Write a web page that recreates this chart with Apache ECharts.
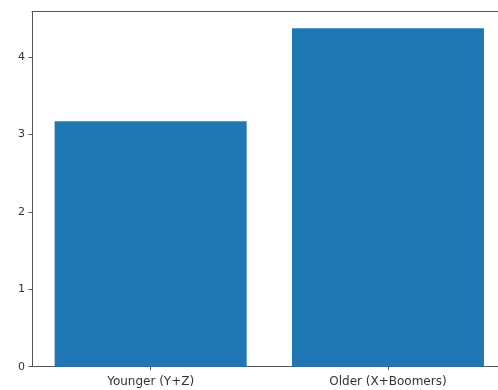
<!DOCTYPE html>
<html>
<head>
<meta charset="utf-8">
<script src="https://cdn.jsdelivr.net/npm/echarts@6/dist/echarts.min.js"></script>
<style>
  html, body { margin: 0; padding: 0; background: #fff; }
  #chart { width: 498px; height: 390px; }
</style>
</head>
<body>
<div id="chart"></div>
<script>
// Generation groups and their mean scores
const categories = ['Younger (Y+Z)', 'Older (X+Boomers)'];
const values = [3.17, 4.37];
const yTicks = [0, 1, 2, 3, 4];

const chart = echarts.init(document.getElementById('chart'), null, { renderer: 'canvas' });

const axisColor = '#555';
const textColor = '#333';
const font = 'DejaVu Sans, sans-serif';

chart.setOption({
  animation: false,
  grid: {
    left: 32,
    top: 11.7,
    width: 474.6,
    height: 355,
    outerBoundsMode: 'none',
    containLabel: false,
    show: false
  },
  xAxis: [{
    type: 'category',
    data: categories,
    axisLine: { show: true, lineStyle: { color: axisColor, width: 1 } },
    axisTick: { show: true, alignWithLabel: true, length: 3.5, lineStyle: { color: axisColor } },
    axisLabel: { color: textColor, fontSize: 12, fontFamily: font, margin: 9 },
    splitLine: { show: false }
  }, {
    // top frame line
    type: 'category',
    position: 'top',
    data: categories,
    axisLine: { show: true, lineStyle: { color: axisColor, width: 1 } },
    axisTick: { show: false },
    axisLabel: { show: false },
    splitLine: { show: false }
  }],
  yAxis: {
    type: 'value',
    min: 0,
    max: 4.585,
    interval: 1,
    axisLine: { show: true, lineStyle: { color: axisColor, width: 1 } },
    axisTick: { show: true, length: 3.5, customValues: yTicks, lineStyle: { color: axisColor } },
    axisLabel: {
      color: textColor, fontSize: 11, fontFamily: font, margin: 7,
      customValues: yTicks
    },
    splitLine: { show: false }
  },
  series: [{
    type: 'bar',
    data: values,
    barWidth: 192,
    itemStyle: { color: '#1f77b4' }
  }]
});
</script>
</body>
</html>
